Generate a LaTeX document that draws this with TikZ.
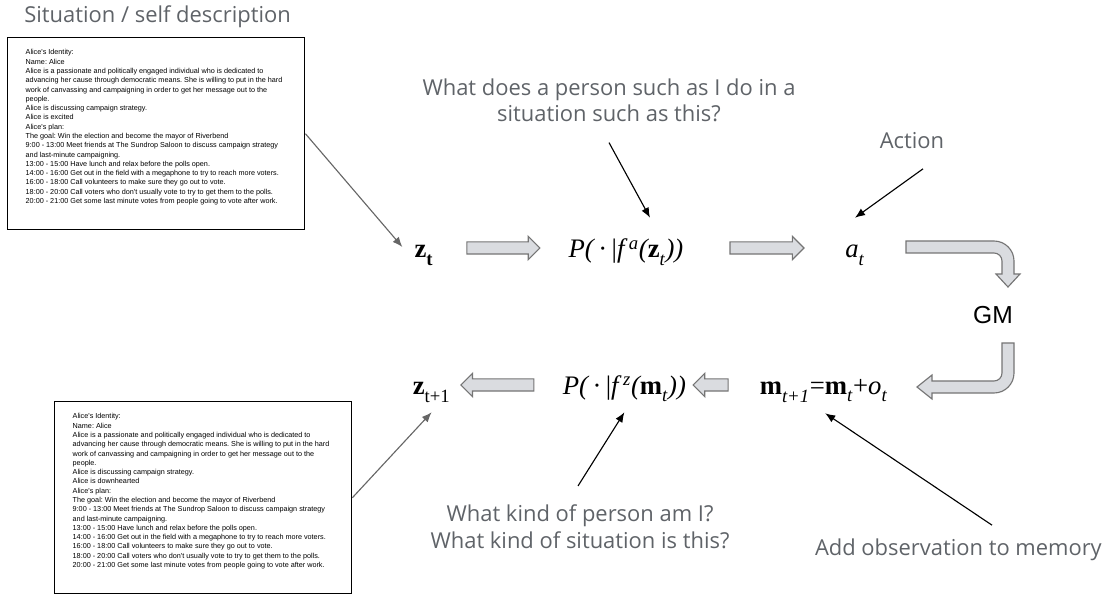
\documentclass[tikz,border=0pt]{standalone}
\usepackage{fontspec}
\setmainfont{Liberation Serif}
\newfontfamily\notefont{Open Sans}
\newfontfamily\boxfont{Liberation Sans}
\usetikzlibrary{shapes.arrows,arrows.meta}

\definecolor{notegray}{HTML}{5F6368}
\definecolor{arrowfill}{HTML}{DADCE0}
\definecolor{arrowedge}{HTML}{757575}
\definecolor{feedgray}{HTML}{666666}

\newcommand{\lowsub}[1]{\raisebox{-0.35ex}{\textsubscript{#1}}}
\newcommand{\aliceprofile}[1]{%
Alice's Identity:\\
Name: Alice\\
Alice is a passionate and politically engaged individual who is dedicated to\\
advancing her cause through democratic means. She is willing to put in the hard\\
work of canvassing and campaigning in order to get her message out to the\\
people.\\
Alice is discussing campaign strategy.\\
Alice is #1\\
Alice's plan:\\
The goal: Win the election and become the mayor of Riverbend\\
9:00 - 13:00 Meet friends at The Sundrop Saloon to discuss campaign strategy\\
and last-minute campaigning.\\
13:00 - 15:00 Have lunch and relax before the polls open.\\
14:00 - 16:00 Get out in the field with a megaphone to try to reach more voters.\\
16:00 - 18:00 Call volunteers to make sure they go out to vote.\\
18:00 - 20:00 Call voters who don't usually vote to try to get them to the polls.\\
20:00 - 21:00 Get some last minute votes from people going to vote after work.}

\begin{document}
\begin{tikzpicture}[
  note/.style={font=\notefont\fontsize{15.6}{18.8}\selectfont,text=notegray,align=center,inner sep=0},
  eq/.style={font=\fontsize{19}{23}\selectfont,text height=0.5cm,text depth=0.15cm,inner sep=0.1cm},
  profile/.style={draw,line width=1pt,anchor=north west,inner xsep=0.45cm,inner ysep=0.3cm,font=\boxfont\fontsize{5.15}{6.6}\selectfont\frenchspacing},
  blockarrow/.style={single arrow,draw=arrowedge,fill=arrowfill,line width=0.8pt,inner sep=0,text height=0.275cm,text depth=0pt,single arrow head extend=0.14cm},
  bentarrow/.style={draw=arrowedge,fill=arrowfill,line width=0.8pt},
  feed/.style={feedgray,line width=0.8pt,-{Latex[length=2.5mm,width=2mm]}},
  pointer/.style={black,line width=0.8pt,-{Latex[length=2.5mm,width=2mm]}}
]
\useasboundingbox (0,0) rectangle (27.65,14.975);

%labels
\node[note] (title) at (3.94,14.55) {Situation / self description};
\node[note] (qa) at (15.225,12.46) {What does a person such as I do in a\\situation such as this?};
\node[note] (act) at (22.8,11.45) {Action};
\node[note] (qz) at (14.5,1.81) {What kind of person am I?\\What kind of situation is this?};
\node[note] (obs) at (23.96,1.225) {Add observation to memory};

%situation boxes
\node[profile] (sit) at (0.175,14.05) {\parbox[c][4.2cm][t]{6.525cm}{\aliceprofile{excited}}};
\node[profile] (sitnext) at (1.35,4.95) {\parbox[c][4.2cm][t]{6.525cm}{\aliceprofile{downhearted}}};

%top row
\node[eq] (zt) at (10.6,8.7) {\textbf{z}\lowsub{\textbf{t}}};
\node[eq] (Pa) at (15.65,8.7) {\itshape P(\,\textup{·}\,\textup{|}f\,\textsuperscript{a}(\textbf{\upshape z}\lowsub{t}))};
\node[eq] (at) at (21.375,8.7) {\itshape a\lowsub{t}};
\node[font=\boxfont\fontsize{17.5}{21}\selectfont] (gm) at (24.825,7.1) {GM};

%bottom row
\node[eq] (znext) at (10.79,5.3) {\textbf{z}\lowsub{t+1}};
\node[eq] (Pz) at (15.61,5.3) {\itshape P(\,\textup{·}\,\textup{|}f\,\textsuperscript{z}(\textbf{\upshape m}\lowsub{t}))};
\node[eq] (meq) at (20.59,5.3) {\textbf{m}\lowsub{\itshape t+1}=\textbf{m}\lowsub{\itshape t}+\textit{o}\lowsub{\itshape t}};

%block arrows
\node[blockarrow,minimum height=1.825cm] (z2p) at (12.51,8.775) {};
\node[blockarrow,minimum height=1.85cm] (p2a) at (19.1,8.775) {};
\node[blockarrow,minimum height=1.825cm,shape border rotate=180] (p2z) at (12.51,5.35) {};
\node[blockarrow,minimum height=0.875cm,shape border rotate=180] (m2p) at (17.84,5.35) {};

%bent arrows
\draw[bentarrow] (22.65,8.95) -- (24.85,8.95) arc (90:0:0.5) -- (25.35,8.125) -- (25.5,8.125)
  -- (25.2,7.8) -- (24.9,8.125) -- (25.05,8.125) -- (25.05,8.45) arc (0:90:0.2) -- (22.65,8.65) -- cycle;
\draw[bentarrow] (25.05,6.4) -- (25.35,6.4) -- (25.35,5.65) arc (0:-90:0.5) -- (23.3,5.15) -- (23.3,5.0)
  -- (22.925,5.3) -- (23.3,5.6) -- (23.3,5.45) -- (24.85,5.45) arc (-90:0:0.2) -- cycle;

%pointers
\draw[feed] (sit.east) -- ([xshift=-0.2cm,yshift=0.1cm]zt.west);
\draw[feed] (sitnext.east) -- ([yshift=-0.2cm]znext.south);
\draw[pointer] ([yshift=-0.5cm]qa.south) -- ([xshift=0.6cm,yshift=0.4cm]Pa.north);
\draw[pointer] ([xshift=0.275cm,yshift=-0.485cm]act.south) -- ([yshift=0.4cm]at.north);
\draw[pointer] ([xshift=-0.05cm,yshift=0.465cm]qz.north) -- ([yshift=-0.2cm]Pz.south);
\draw[pointer] ([xshift=0.84cm,yshift=0.34cm]obs.north) -- ([xshift=0.04cm,yshift=-0.225cm]meq.south);
\end{tikzpicture}
\end{document}
